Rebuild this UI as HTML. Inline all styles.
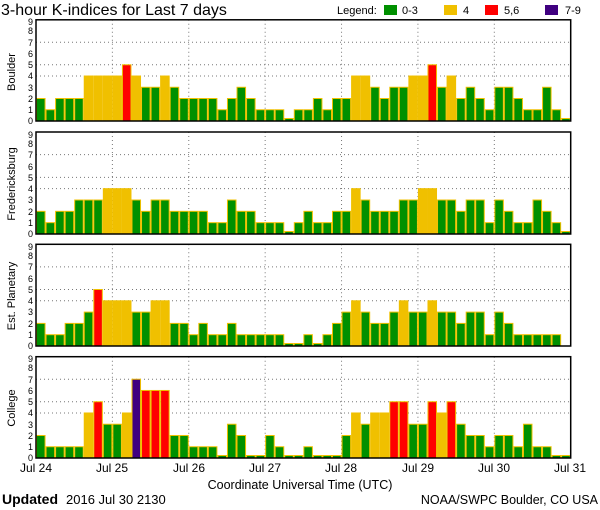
<!DOCTYPE html>
<html><head><meta charset="utf-8"><style>
body{margin:0;background:#fff;width:600px;height:510px;overflow:hidden}
svg{display:block}
text{font-family:"Liberation Sans",sans-serif;fill:#000}
</style></head><body>
<svg id="s" width="600" height="510" xmlns="http://www.w3.org/2000/svg">
<text x="1" y="15" font-size="16">3-hour K-indices for Last 7 days</text>
<text x="337" y="14" font-size="11">Legend:</text>
<rect x="384" y="5" width="13" height="10" fill="#009000"/><text x="402" y="14" font-size="11">0-3</text>
<rect x="444" y="5" width="13" height="10" fill="#f0c000"/><text x="463" y="14" font-size="11">4</text>
<rect x="485" y="5" width="13" height="10" fill="#ff0000"/><text x="504" y="14" font-size="11">5,6</text>
<rect x="545" y="5" width="13" height="10" fill="#400080"/><text x="565" y="14" font-size="11">7-9</text>
<g font-size="11" text-anchor="middle">
<text transform="translate(15,72) rotate(-90)">Boulder</text>
<text transform="translate(15,184) rotate(-90)">Fredericksburg</text>
<text transform="translate(15,296) rotate(-90)">Est. Planetary</text>
<text transform="translate(15,408) rotate(-90)">College</text>
</g>
<g id="ticks" font-size="9" text-anchor="end">
<text x="33" y="124">0</text><text x="33" y="113">1</text><text x="33" y="102">2</text><text x="33" y="91">3</text><text x="33" y="79">4</text><text x="33" y="68">5</text><text x="33" y="57">6</text><text x="33" y="46">7</text><text x="33" y="34">8</text><text x="33" y="25">9</text>
<text x="33" y="237">0</text><text x="33" y="226">1</text><text x="33" y="215">2</text><text x="33" y="203">3</text><text x="33" y="192">4</text><text x="33" y="181">5</text><text x="33" y="170">6</text><text x="33" y="158">7</text><text x="33" y="147">8</text><text x="33" y="138">9</text>
<text x="33" y="349">0</text><text x="33" y="338">1</text><text x="33" y="327">2</text><text x="33" y="315">3</text><text x="33" y="304">4</text><text x="33" y="293">5</text><text x="33" y="282">6</text><text x="33" y="270">7</text><text x="33" y="259">8</text><text x="33" y="250">9</text>
<text x="33" y="461">0</text><text x="33" y="450">1</text><text x="33" y="439">2</text><text x="33" y="428">3</text><text x="33" y="416">4</text><text x="33" y="405">5</text><text x="33" y="394">6</text><text x="33" y="383">7</text><text x="33" y="371">8</text><text x="33" y="362">9</text>
</g>
<g font-size="12" text-anchor="middle">
<text x="36" y="472">Jul 24</text><text x="112" y="472">Jul 25</text><text x="189" y="472">Jul 26</text><text x="265" y="472">Jul 27</text><text x="341" y="472">Jul 28</text><text x="418" y="472">Jul 29</text><text x="494" y="472">Jul 30</text><text x="570" y="472">Jul 31</text>
<text x="300" y="489" font-size="12.5">Coordinate Universal Time (UTC)</text>
</g>
<text x="2" y="504" font-size="14" font-family="Liberation Serif,serif" font-weight="bold">Updated</text>
<text x="66" y="504" font-size="13">2016 Jul 30 2130</text>
<text x="598" y="504" font-size="12.5" text-anchor="end">NOAA/SWPC Boulder, CO USA</text>
</svg>
<script>
var D=[
[2,1,2,2,2,4,4,4,4,5,4,3,3,4,3,2,2,2,2,1,2,3,2,1,1,1,0,1, 1,2,1,2,2,4,4,3,2,3,3,4,4,5,3,4,2,3,2,1,3,3,2,1,1,3,1,0],
[2,1,2,2,3,3,3,4,4,4,3,2,3,3,2,2,2,2,1,1,3,2,2,1,1,1,0,1, 2,1,1,2,2,4,3,2,2,2,3,3,4,4,3,3,2,3,3,1,3,2,1,1,3,2,1,0],
[2,1,1,2,2,3,5,4,4,4,3,3,4,4,2,2,1,2,1,1,2,1,1,1,1,1,0,0, 1,0,1,2,3,4,3,2,2,3,4,3,3,4,3,3,2,3,3,1,3,2,1,1,1,1,1,null],
[2,1,1,1,1,4,5,3,3,4,7,6,6,6,2,2,1,1,1,0,3,2,0,0,2,1,0,0, 1,0,0,0,2,4,3,4,4,5,5,3,3,5,4,5,3,2,2,1,2,2,1,3,1,1,0,0]];
var P=[[19.8,121],[132,234],[244.3,346],[356.7,458]];
var s=document.getElementById('s'),NS='http://www.w3.org/2000/svg';
function el(t,a){var e=document.createElementNS(NS,t);for(var k in a)e.setAttribute(k,a[k]);s.appendChild(e);return e;}
var X0=36,X1=570.7,W=(X1-X0)/56;
P.forEach(function(p,i){
 var t=p[0],b=p[1],u=(b-t)/9;
 [4,5,7].forEach(function(k){el('line',{x1:X0,x2:X1,y1:b-k*u,y2:b-k*u,stroke:'#777','stroke-width':1,'stroke-dasharray':'1,3'});});
 for(var d=1;d<7;d++){var x=X0+d*8*W;el('line',{x1:x,x2:x,y1:t,y2:b,stroke:'#777','stroke-width':1,'stroke-dasharray':'1,3'});}
 D[i].forEach(function(v,j){
  if(v===null)return;
  var c=v<=3?'#009000':v==4?'#f0c000':v<=6?'#ff0000':'#400080';
  var h=v==0?2.5:v*u;
  el('rect',{x:X0+j*W+0.5,y:b-h,width:W-1,height:h,fill:c,stroke:'#f0c000','stroke-width':1});
 });
 el('rect',{x:X0,y:t,width:X1-X0,height:b-t,fill:'none',stroke:'#000','stroke-width':1.5});
});
</script>
</body></html>
